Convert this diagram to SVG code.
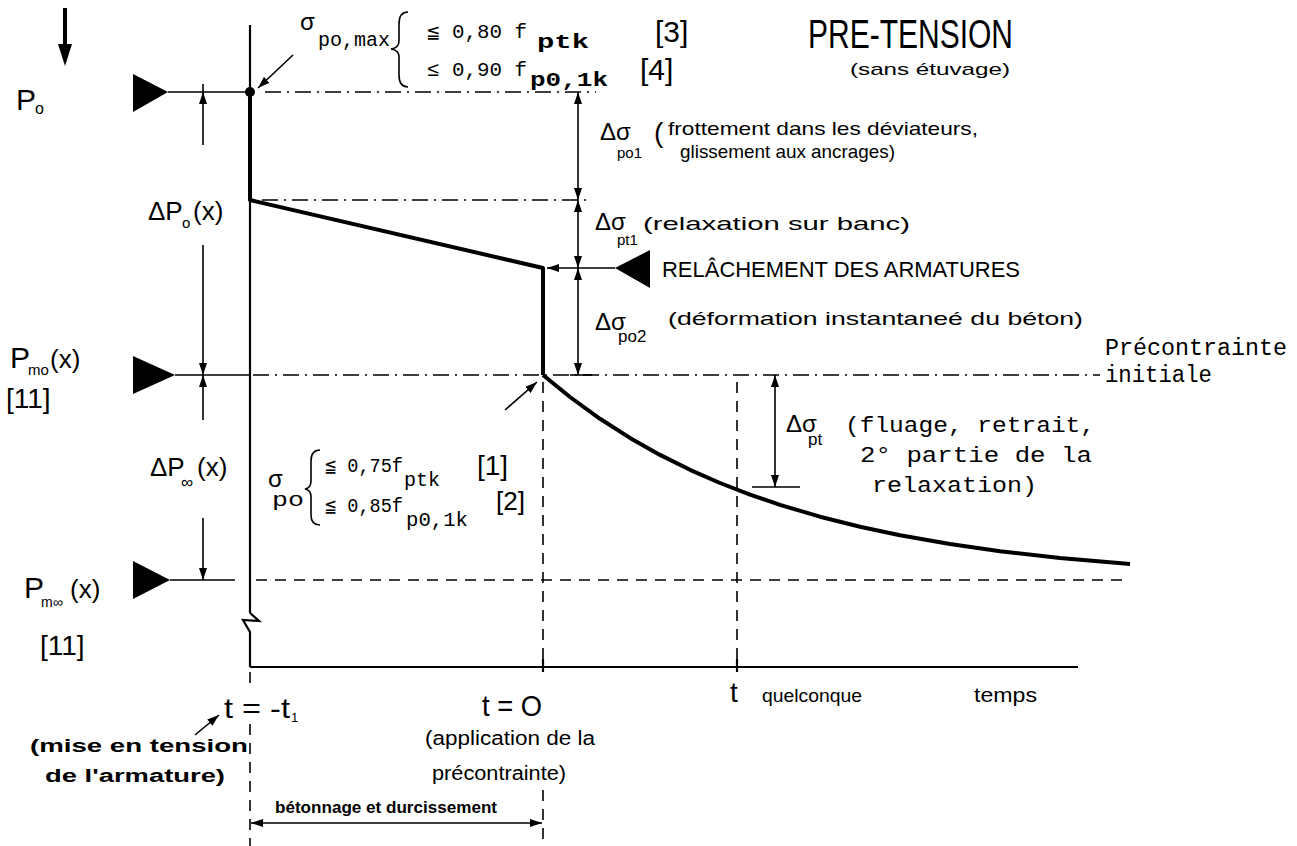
<svg xmlns="http://www.w3.org/2000/svg" width="1297" height="846" viewBox="0 0 1297 846">
<style>
.h{font-family:"Liberation Sans","DejaVu Sans",sans-serif;fill:#000}
.m{font-family:"Liberation Mono","DejaVu Sans Mono",monospace;fill:#000}
.b{font-weight:bold}
.thin{stroke:#000;stroke-width:1.6;fill:none}
.med{stroke:#000;stroke-width:2.2;fill:none}
.thick{stroke:#000;stroke-width:4;fill:none;stroke-linejoin:round}
.dd{stroke:#000;stroke-width:1.5;fill:none;stroke-dasharray:16 6 2 6}
.ds{stroke:#000;stroke-width:1.6;fill:none;stroke-dasharray:11 8}
.tri{fill:#000}
</style>
<defs>
<marker id="ah" viewBox="0 0 12 8" refX="12" refY="4" markerWidth="12" markerHeight="8" markerUnits="userSpaceOnUse" orient="auto-start-reverse">
<path d="M0,0 L12,4 L0,8 Z" fill="#000"/>
</marker>
</defs>
<rect width="1297" height="846" fill="#fff"/>

<g id="connectors">
<line x1="65" y1="8" x2="65" y2="48" stroke="#000" stroke-width="4"/>
<polygon points="58,44 72,44 65,66" fill="#000"/>
<line class="med" x1="250" y1="25" x2="250" y2="613"/>
<polyline class="med" points="250,613 259,621 243,620 250,632 250,667"/>
<line class="med" x1="250" y1="667" x2="1078" y2="667"/>
<line class="med" x1="543" y1="659" x2="543" y2="672"/>
<line class="med" x1="737" y1="659" x2="737" y2="672"/>
<line class="thin" x1="168" y1="92" x2="250" y2="92"/>
<line class="dd" x1="265" y1="92" x2="596" y2="92"/>
<line class="dd" x1="262" y1="200" x2="592" y2="200"/>
<line class="thin" x1="175" y1="375" x2="250" y2="375"/>
<line class="dd" x1="253" y1="375" x2="1100" y2="375"/>
<line class="thin" x1="570" y1="375" x2="592" y2="375"/>
<line class="thin" x1="170" y1="580" x2="235" y2="580"/>
<line class="ds" x1="256" y1="580" x2="1130" y2="580"/>
<line class="ds" x1="543" y1="382" x2="543" y2="660"/>
<line class="ds" x1="543" y1="790" x2="543" y2="846"/>
<line class="ds" x1="737" y1="382" x2="737" y2="660"/>
<line class="ds" x1="250" y1="672" x2="250" y2="686"/>
<line class="ds" x1="250" y1="724" x2="250" y2="846"/>
<polyline class="thick" points="250,92 250,200 543,268 543,375"/>
<circle cx="250" cy="92" r="5" fill="#000"/>
<polyline class="thick" stroke-width="3.2" points="543,375 570,397 600,418.8 630,437.9 660,454.9 690,469.8 720,483 750,494.6 780,504.9 820,516.7 860,526.8 900,535.2 950,544 1000,551.2 1060,558 1130,564.1"/>
<line class="thin" x1="578" y1="92" x2="578" y2="200" marker-start="url(#ah)" marker-end="url(#ah)"/>
<line class="thin" x1="578" y1="200" x2="578" y2="268" marker-start="url(#ah)" marker-end="url(#ah)"/>
<line class="thin" x1="578" y1="268" x2="578" y2="375" marker-start="url(#ah)" marker-end="url(#ah)"/>
<line class="thin" x1="615" y1="268" x2="547" y2="268" marker-end="url(#ah)"/>
<polygon class="tri" points="650,250 615,268 650,288"/>
<line class="thin" x1="775" y1="375" x2="775" y2="487" marker-start="url(#ah)" marker-end="url(#ah)"/>
<line class="thin" x1="752" y1="487" x2="800" y2="487"/>
<line class="thin" x1="203" y1="84" x2="203" y2="92"/>
<line class="thin" x1="203" y1="92" x2="203" y2="145" marker-start="url(#ah)"/>
<line class="thin" x1="203" y1="245" x2="203" y2="375" marker-end="url(#ah)"/>
<line class="thin" x1="203" y1="375" x2="203" y2="420" marker-start="url(#ah)"/>
<line class="thin" x1="203" y1="518" x2="203" y2="580" marker-end="url(#ah)"/>
<line class="thin" x1="293" y1="55" x2="258" y2="88" marker-end="url(#ah)"/>
<line class="thin" x1="505" y1="410" x2="537" y2="382" marker-end="url(#ah)"/>
<line class="thin" x1="195" y1="735" x2="219" y2="715" marker-end="url(#ah)"/>
<line class="thin" x1="251" y1="823" x2="542" y2="823" marker-start="url(#ah)" marker-end="url(#ah)"/>
</g>

<g id="node-Po">
<polygon class="tri" points="133,74 168,92 133,112"/>
<text class="h" x="16" y="110" font-size="30">P</text>
<text class="h" x="35" y="114" font-size="16">o</text>
</g>
<g id="node-dPo">
<text class="h" x="148" y="220" font-size="26">ΔP</text>
<text class="h" x="182" y="228" font-size="15">o</text>
<text class="h" x="193" y="220" font-size="26">(x)</text>
</g>
<g id="node-Pmo">
<polygon class="tri" points="133,356 175,375 133,394"/>
<text class="h" x="10" y="368" font-size="30">P</text>
<text class="h" x="28" y="375" font-size="15">mo</text>
<text class="h" x="50" y="368" font-size="26">(x)</text>
<text class="h" x="6" y="408" font-size="28">[11]</text>
</g>
<g id="node-dPinf">
<text class="h" x="150" y="476" font-size="26">ΔP</text>
<text class="h" x="181" y="488" font-size="17">∞</text>
<text class="h" x="197" y="476" font-size="26">(x)</text>
</g>
<g id="node-Pminf">
<polygon class="tri" points="133,561 170,580 133,599"/>
<text class="h" x="24" y="598" font-size="30">P</text>
<text class="h" x="41" y="607" font-size="14">m∞</text>
<text class="h" x="70" y="598" font-size="26">(x)</text>
<text class="h" x="40" y="655" font-size="28">[11]</text>
</g>

<g id="node-sigma-max">
<text class="m" x="300" y="30" font-size="24">σ</text>
<text class="m" x="318" y="46" font-size="20" textLength="72" lengthAdjust="spacingAndGlyphs">po,max</text>
<path class="thin" d="M408,12 Q399,12 399,24 L399,41 Q399,48 391,49 Q399,50 399,57 L399,75 Q399,87 408,87"/>
<text class="m" x="427" y="38" font-size="20" textLength="100" lengthAdjust="spacingAndGlyphs">≦ 0,80 f</text>
<text class="m b" x="537" y="48" font-size="21" textLength="52" lengthAdjust="spacingAndGlyphs">ptk</text>
<text class="h" x="655" y="42" font-size="30">[3]</text>
<text class="m" x="427" y="76" font-size="20" textLength="100" lengthAdjust="spacingAndGlyphs">≤ 0,90 f</text>
<text class="m b" x="530" y="86" font-size="21" textLength="78" lengthAdjust="spacingAndGlyphs">p0,1k</text>
<text class="h" x="640" y="80" font-size="30">[4]</text>
</g>

<g id="node-title">
<text class="h" x="808" y="48" font-size="40" textLength="205" lengthAdjust="spacingAndGlyphs">PRE-TENSION</text>
<text class="h" x="850" y="75" font-size="17" textLength="160" lengthAdjust="spacingAndGlyphs">(sans étuvage)</text>
</g>

<g id="node-dspo1">
<text class="h" x="600" y="140" font-size="24">Δσ</text>
<text class="h" x="617" y="158" font-size="15">po1</text>
<text class="h" x="654" y="142" font-size="28">(</text>
<text class="h" x="668" y="135" font-size="19" textLength="310" lengthAdjust="spacingAndGlyphs">frottement dans les déviateurs,</text>
<text class="h" x="680" y="158" font-size="19" textLength="215" lengthAdjust="spacingAndGlyphs">glissement aux ancrages)</text>
</g>
<g id="node-dspt1">
<text class="h" x="595" y="230" font-size="24">Δσ</text>
<text class="h" x="617" y="245" font-size="15">pt1</text>
<text class="h" x="643" y="230" font-size="19" textLength="267" lengthAdjust="spacingAndGlyphs">(relaxation sur banc)</text>
</g>
<g id="node-relachement">
<text class="h" x="662" y="277" font-size="22" textLength="358" lengthAdjust="spacingAndGlyphs">RELÂCHEMENT DES ARMATURES</text>
</g>
<g id="node-dspo2">
<text class="h" x="595" y="330" font-size="24">Δσ</text>
<text class="h" x="618" y="342" font-size="17">po2</text>
<text class="h" x="668" y="325" font-size="19" textLength="415" lengthAdjust="spacingAndGlyphs">(déformation instantaneé du béton)</text>
</g>
<g id="node-precontrainte">
<text class="m" x="1105" y="355" font-size="23" textLength="182" lengthAdjust="spacingAndGlyphs">Précontrainte</text>
<text class="m" x="1105" y="382" font-size="23" textLength="107" lengthAdjust="spacingAndGlyphs">initiale</text>
</g>
<g id="node-dspt">
<text class="h" x="786" y="432" font-size="24">Δσ</text>
<text class="h" x="808" y="445" font-size="17">pt</text>
<text class="m" x="845" y="432" font-size="22" textLength="250" lengthAdjust="spacingAndGlyphs">(fluage, retrait,</text>
<text class="m" x="860" y="462" font-size="22" textLength="232" lengthAdjust="spacingAndGlyphs">2° partie de la</text>
<text class="m" x="872" y="492" font-size="22" textLength="165" lengthAdjust="spacingAndGlyphs">relaxation)</text>
</g>

<g id="node-sigma-po">
<text class="m" x="268" y="487" font-size="24">σ</text>
<text class="m" x="272" y="506" font-size="20" textLength="32" lengthAdjust="spacingAndGlyphs">po</text>
<path class="thin" d="M320,450 Q311,450 311,461 L311,481 Q311,488 305,489 Q311,490 311,497 L311,515 Q311,525 320,525"/>
<text class="m" x="325" y="472" font-size="20" textLength="78" lengthAdjust="spacingAndGlyphs">≦ 0,75f</text>
<text class="m" x="404" y="486" font-size="20" textLength="36" lengthAdjust="spacingAndGlyphs">ptk</text>
<text class="h" x="477" y="475" font-size="28">[1]</text>
<text class="m" x="325" y="512" font-size="20" textLength="78" lengthAdjust="spacingAndGlyphs">≦ 0,85f</text>
<text class="m" x="406" y="526" font-size="20" textLength="62" lengthAdjust="spacingAndGlyphs">p0,1k</text>
<text class="h" x="496" y="510" font-size="26">[2]</text>
</g>

<g id="node-t-minus">
<text class="h" x="224" y="718" font-size="28" textLength="66" lengthAdjust="spacingAndGlyphs">t = -t</text>
<text class="h" x="291" y="722" font-size="13">1</text>
<text class="h b" x="30" y="752" font-size="18" textLength="218" lengthAdjust="spacingAndGlyphs">(mise en tension</text>
<text class="h b" x="45" y="782" font-size="18" textLength="180" lengthAdjust="spacingAndGlyphs">de l'armature)</text>
</g>
<g id="node-t0">
<text class="h" x="482" y="716" font-size="30" textLength="60" lengthAdjust="spacingAndGlyphs">t = O</text>
<text class="h" x="425" y="745" font-size="20" textLength="170" lengthAdjust="spacingAndGlyphs">(application de la</text>
<text class="h" x="432" y="780" font-size="20" textLength="134" lengthAdjust="spacingAndGlyphs">précontrainte)</text>
<text class="h b" x="275" y="813" font-size="16" textLength="222" lengthAdjust="spacingAndGlyphs">bétonnage et durcissement</text>
</g>
<g id="node-t">
<text class="h" x="730" y="702" font-size="28">t</text>
<text class="h" x="762" y="702" font-size="19" textLength="100" lengthAdjust="spacingAndGlyphs">quelconque</text>
</g>
<g id="node-temps">
<text class="h" x="974" y="702" font-size="20" textLength="63" lengthAdjust="spacingAndGlyphs">temps</text>
</g>
</svg>
